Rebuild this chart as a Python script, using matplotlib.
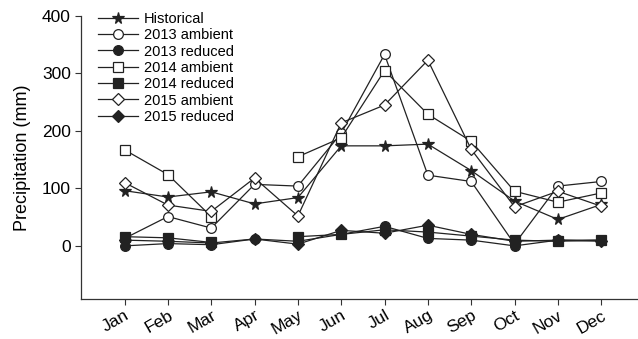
import numpy as np
import matplotlib
matplotlib.use("Agg")
import matplotlib.pyplot as plt

plt.rcParams['font.family'] = ['Liberation Sans', 'DejaVu Sans']

# Monthly precipitation (mm)
months = ["Jan", "Feb", "Mar", "Apr", "May", "Jun",
          "Jul", "Aug", "Sep", "Oct", "Nov", "Dec"]
historical = [96, 85, 94, 73, 84, 174, 174, 177, 131, 78, 46, 72]
ambient_2013 = [13, 51, 31, 107, 104, 196, 333, 123, 112, 3, 104, 112]
reduced_2013 = [0, 4, 2, 12, 8, 20, 34, 13, 10, 0, 10, 10]
ambient_2014 = [167, 124, 51, np.nan, 155, 188, 305, 229, 182, 95, 76, 92]
reduced_2014 = [16, 14, 6, np.nan, 16, 20, 28, 24, 17, 10, 8, 10]
ambient_2015 = [110, 71, 60, 118, 52, 214, 245, 323, 168, 68, 95, 69]
reduced_2015 = [10, 8, 5, 12, 3, 27, 22, 36, 20, 8, 10, 8]

x = np.arange(1, 13)

fig = plt.figure(figsize=(6.38, 3.39), dpi=100)
ax = fig.add_axes([0.1274, 0.117, 0.8726, 0.836])

lc = "#222222"
series = [
    ("Historical", historical, "*", lc, 8.5),
    ("2013 ambient", ambient_2013, "o", "white", 7),
    ("2013 reduced", reduced_2013, "o", lc, 7),
    ("2014 ambient", ambient_2014, "s", "white", 6.5),
    ("2014 reduced", reduced_2014, "s", lc, 6.5),
    ("2015 ambient", ambient_2015, "D", "white", 6.5),
    ("2015 reduced", reduced_2015, "D", lc, 6.5),
]

for label, vals, mk, fc, ms in series:
    ax.plot(x, vals, color=lc, lw=0.9, marker=mk, markersize=ms,
            markerfacecolor=fc, markeredgecolor=lc, markeredgewidth=0.9,
            label=label)

ax.set_xlim(0, 12.85)
ax.set_ylim(-93, 400)
ax.set_yticks([0, 100, 200, 300, 400])
ax.set_xticks(x)
ax.set_xticklabels(months, rotation=30, ha="right", rotation_mode="anchor",
                   fontsize=12.5)
ax.tick_params(axis="y", labelsize=12.5, direction="out", length=4, width=0.8,
               colors="#333333", labelcolor="black")
ax.tick_params(axis="x", direction="out", length=4, width=0.8, pad=2,
               colors="#333333", labelcolor="black")
ax.set_ylabel("Precipitation (mm)", fontsize=13, labelpad=8)

for side in ["top", "right"]:
    ax.spines[side].set_visible(False)
for side in ["left", "bottom"]:
    ax.spines[side].set_linewidth(0.9)
    ax.spines[side].set_color("#333333")

ax.legend(loc="upper left", bbox_to_anchor=(0.02, 1.035), frameon=False,
          fontsize=10.5, handlelength=2.7, labelspacing=0.16, handletextpad=0.45,
          borderaxespad=0)

fig.savefig("out.png", dpi=100)
